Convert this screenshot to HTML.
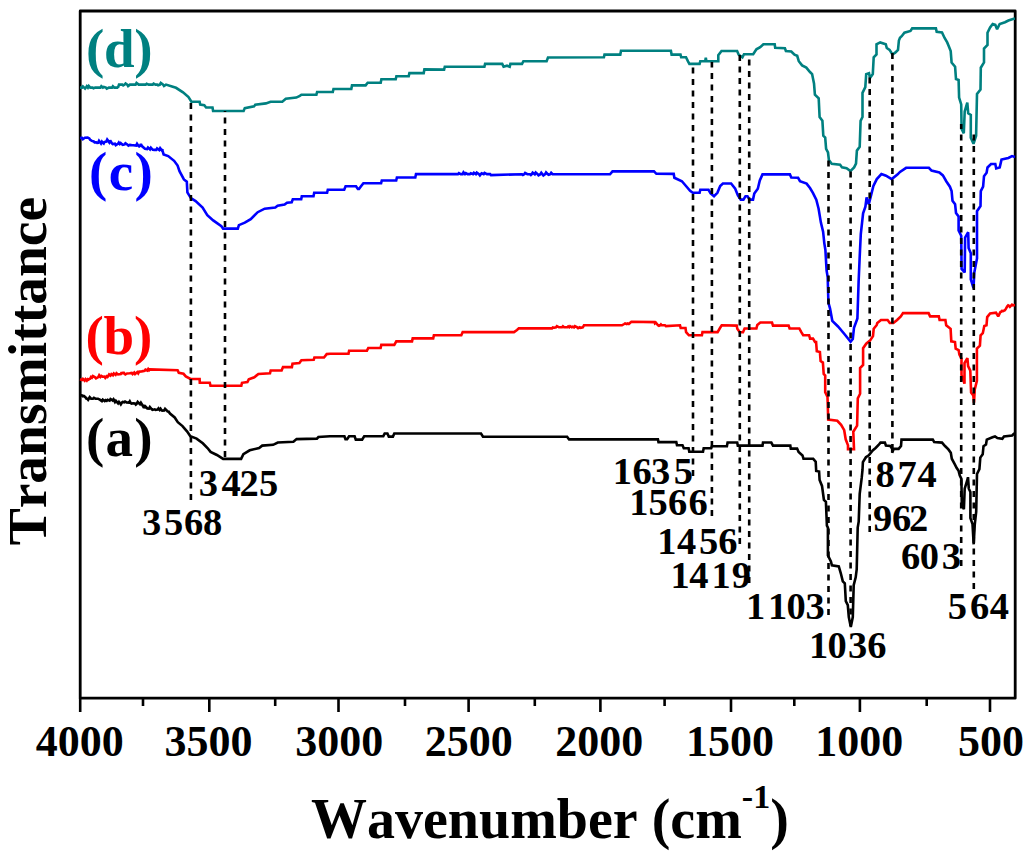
<!DOCTYPE html>
<html><head><meta charset="utf-8"><title>FTIR</title>
<style>html,body{margin:0;padding:0;background:#fff;width:1024px;height:857px;overflow:hidden}svg{display:block}text{font-family:"Liberation Serif",serif;font-weight:bold;font-kerning:none}</style></head><body>
<svg width="1024" height="857" viewBox="0 0 1024 857">
<rect width="1024" height="857" fill="#fff"/>
<rect x="80.2" y="11" width="935" height="687.2" fill="none" stroke="#000" stroke-width="2.8" stroke-linejoin="round"/>
<g fill="none" stroke-width="2.6" stroke-linejoin="miter" stroke-miterlimit="2">
<polyline stroke="#008080" points="80.0,87.6 82.0,87.6 82.9,86.4 84.2,87.6 85.1,88.6 85.9,87.6 86.8,86.2 87.9,87.6 88.8,86.0 90.3,87.6 92.6,87.6 93.5,88.2 95.2,87.6 97.7,87.6 100.4,87.6 101.3,86.2 102.9,87.6 103.8,86.9 105.9,87.6 106.8,88.7 108.9,87.6 112.0,87.6 112.9,86.2 114.3,87.6 117.3,87.6 118.2,86.8 118.0,87.6 119.0,84.6 120.0,84.6 122.3,84.6 123.2,85.4 124.7,84.6 125.6,83.5 127.2,84.6 128.1,86.0 129.9,84.6 132.9,84.6 135.6,84.6 136.5,83.0 138.7,84.6 141.2,84.6 143.2,84.6 145.7,84.6 146.6,83.8 148.7,84.6 150.4,84.6 152.7,84.6 153.6,83.6 155.5,84.6 157.2,84.6 158.1,85.2 159.9,84.6 160.8,82.9 163.1,84.6 164.0,86.0 166.0,84.6 172.0,86.5 176.0,87.8 183.0,92.3 188.5,97.0 191.4,101.7 199.6,101.7 200.2,104.6 204.3,105.2 206.1,107.5 212.5,107.5 213.1,111.0 243.6,111.0 244.8,108.1 254.1,106.4 255.3,104.6 265.9,103.4 270.6,101.7 282.3,101.7 285.8,98.8 296.3,97.6 299.8,95.8 301.4,94.7 316.4,94.7 317.1,92.0 332.8,92.0 333.5,89.0 351.3,89.0 352.0,85.4 365.6,85.4 367.7,82.7 380.7,82.7 381.4,79.2 395.7,79.2 396.4,76.2 408.7,76.2 409.4,73.1 423.7,73.1 424.4,69.4 444.1,69.6 444.8,66.8 484.4,66.8 485.1,63.9 502.2,63.9 503.6,66.7 507.0,65.7 509.7,66.7 510.4,63.9 522.0,63.9 523.4,61.2 546.6,61.2 548.0,57.5 603.9,57.3 604.5,54.6 620.3,54.6 621.0,50.8 670.9,50.8 671.6,54.6 680.5,54.6 681.2,57.3 686.0,57.3 688.0,61.4 689.4,63.9 699.6,63.9 700.3,61.2 705.2,61.2 705.8,57.8 706.4,61.2 718.3,61.2 718.3,55.2 721.5,51.0 737.1,51.0 738.7,54.7 742.4,57.4 744.0,54.2 753.2,54.2 756.4,49.3 760.2,47.2 763.4,44.2 774.7,44.2 775.2,47.7 784.9,48.3 785.9,51.0 791.3,51.5 794.5,54.7 797.2,55.8 798.8,61.2 802.1,65.4 806.3,67.6 810.0,72.0 812.1,74.1 814.0,83.4 814.9,94.6 818.7,98.4 819.6,117.0 822.4,120.8 823.3,135.7 825.2,137.6 826.1,148.8 828.0,152.5 828.9,160.0 831.7,163.7 840.1,164.7 842.0,167.4 846.6,168.3 850.4,171.1 854.1,167.4 856.0,163.7 856.9,150.6 859.7,146.9 860.6,120.8 862.5,117.0 862.5,92.8 865.3,87.2 866.2,74.1 869.0,73.2 870.0,77.9 872.8,74.1 873.7,57.3 876.5,54.5 876.5,44.3 880.2,42.4 885.8,44.3 886.8,48.0 889.6,49.9 892.4,54.5 895.2,52.7 898.0,49.9 898.9,40.5 900.0,37.7 901.7,36.2 904.4,32.7 910.5,31.0 912.2,28.4 935.9,28.4 936.7,31.9 942.0,32.4 944.6,38.0 947.2,42.4 949.0,46.7 950.7,51.1 951.6,62.5 955.1,66.8 956.0,79.1 958.6,80.0 959.1,97.5 961.2,104.5 961.6,128.9 963.8,133.3 964.7,111.5 967.3,102.7 968.2,113.2 970.8,115.0 970.8,137.7 973.5,143.8 976.1,135.9 977.0,94.0 980.5,89.6 980.8,67.7 984.0,62.5 984.0,48.5 987.5,45.0 987.5,32.7 990.1,27.5 992.7,24.0 995.3,24.9 997.1,29.2 999.7,24.0 1005.0,22.2 1008.4,20.5 1013.7,18.7 1015.0,18.7"/>
<polyline stroke="#0000ff" points="80.0,138.0 82.0,137.9 82.9,139.2 84.9,137.8 87.7,137.6 89.3,138.4 90.2,139.9 91.9,140.9 93.7,141.5 94.6,142.3 96.2,142.2 97.1,142.8 98.1,142.7 99.0,140.8 101.0,143.5 101.9,141.7 102.8,142.8 103.7,143.5 104.4,142.1 106.3,141.6 107.2,139.6 109.3,142.4 110.2,140.5 111.8,143.2 112.7,144.0 114.9,143.6 115.8,145.2 117.9,143.9 118.8,142.6 119.8,144.0 120.7,143.1 121.9,144.2 122.8,144.8 124.6,144.4 125.5,143.2 127.5,144.7 128.4,145.6 129.8,144.9 131.5,145.1 133.2,145.2 136.1,145.5 137.0,143.8 138.3,145.8 139.2,146.4 140.0,145.9 140.9,144.0 141.9,146.1 145.0,148.7 147.1,149.0 148.0,147.6 150.0,149.4 150.9,147.7 152.8,149.8 154.5,149.9 156.2,150.0 157.1,148.4 159.3,150.1 160.2,148.2 161.8,150.3 162.7,149.1 162.4,150.3 163.6,154.4 168.2,156.1 174.1,160.8 177.6,165.5 179.5,171.2 183.9,179.4 186.8,181.7 187.4,192.3 190.9,198.1 195.6,201.1 202.6,207.5 207.3,215.1 213.2,220.4 221.4,226.3 223.1,228.6 237.8,228.6 238.9,225.1 244.8,222.7 250.7,219.2 257.7,212.2 264.7,208.7 275.3,207.5 277.6,205.7 284.6,204.6 287.0,202.8 291.7,202.2 292.8,199.3 298.0,199.3 301.2,199.3 301.8,196.2 313.5,196.2 314.2,192.8 327.1,192.8 327.8,189.8 344.2,189.8 345.6,186.3 356.0,186.3 357.9,189.0 359.0,189.0 361.0,186.3 363.4,183.2 381.1,183.2 381.8,180.5 396.2,180.5 396.9,177.5 415.3,177.5 416.0,174.0 458.0,174.1 458.9,173.2 460.7,174.1 462.6,174.1 463.5,172.3 465.0,174.1 465.9,173.1 467.6,174.1 469.9,174.1 470.8,173.3 473.0,174.1 473.9,172.8 475.9,174.1 476.8,172.6 479.0,174.1 479.9,175.3 480.8,174.1 481.7,173.2 483.7,174.1 484.6,172.9 486.9,174.1 490.1,174.1 491.0,175.1 522.0,174.2 522.9,175.0 524.2,174.2 525.1,173.0 527.4,174.2 530.0,174.2 530.9,175.0 531.8,174.2 532.7,172.6 534.8,174.2 535.7,172.6 537.6,174.2 538.5,175.3 540.4,174.2 541.3,172.7 542.5,174.2 543.4,175.4 545.2,174.2 546.1,172.5 547.8,174.2 548.7,174.8 550.3,174.2 551.2,172.8 552.6,174.2 555.3,174.2 610.0,174.3 612.5,171.4 654.0,171.4 656.4,173.8 673.7,173.9 674.4,177.8 681.9,181.2 686.0,186.0 690.1,190.8 692.8,192.8 699.6,192.8 700.3,189.8 708.5,189.8 710.6,193.5 714.0,196.2 717.4,192.8 720.2,186.0 722.9,183.5 731.1,183.5 735.2,188.7 737.9,195.5 740.7,199.6 743.4,199.6 745.5,196.2 747.5,196.2 749.6,199.6 753.0,199.6 754.3,193.5 757.8,188.7 759.8,180.5 762.5,174.4 789.9,174.4 791.3,177.5 798.1,177.8 800.0,181.2 806.6,183.6 810.0,188.0 812.9,192.9 816.3,199.7 818.6,208.8 820.9,222.6 823.1,231.7 824.3,243.1 825.4,250.0 826.6,270.5 827.7,277.4 828.4,302.5 830.0,308.3 832.3,320.8 838.0,326.5 844.8,334.5 850.6,341.8 852.8,339.1 854.0,327.7 857.4,318.5 858.6,282.0 859.7,256.8 860.8,234.0 863.1,213.4 865.4,206.6 866.6,197.4 868.8,204.3 871.1,195.1 873.4,186.0 876.8,179.1 881.4,174.1 886.0,175.7 891.7,179.1 897.4,174.6 900.0,171.9 906.1,167.8 928.9,167.8 931.5,170.6 939.4,172.4 942.9,175.4 946.4,181.5 949.9,186.7 951.6,191.1 952.5,200.7 955.1,204.2 956.0,213.0 958.6,216.5 958.6,230.5 961.2,235.7 961.6,268.9 964.7,272.4 965.1,237.5 968.2,232.2 968.6,248.0 970.8,253.2 970.8,279.4 973.5,288.2 974.3,272.4 977.0,258.4 977.0,211.2 980.5,206.0 980.8,191.1 983.1,186.7 984.0,176.2 986.6,172.7 987.5,167.5 991.0,164.0 995.3,164.0 996.2,168.4 999.7,167.5 1001.5,159.6 1005.0,158.7 1008.4,157.9 1012.0,156.1 1015.0,157.0"/>
<polyline stroke="#ff0000" points="80.0,379.3 82.0,379.9 82.9,378.9 84.6,380.6 85.5,379.2 86.8,380.7 87.7,379.3 88.5,379.7 89.4,378.9 90.2,378.7 91.1,376.9 92.0,377.6 92.9,376.1 95.1,377.3 96.0,378.3 98.3,377.1 99.2,375.2 100.4,376.9 101.3,375.9 102.5,376.7 104.4,376.5 105.3,377.8 106.6,376.3 107.5,377.0 108.2,376.0 109.1,374.4 110.5,375.6 111.4,374.1 112.9,375.3 113.8,373.5 115.6,374.8 116.5,373.3 118.0,374.5 120.8,374.1 121.7,372.2 122.6,373.9 123.5,372.2 124.4,373.7 125.3,374.4 127.1,373.4 129.6,373.2 131.7,372.9 132.6,374.1 134.2,372.5 135.1,374.0 137.3,372.1 138.2,373.3 139.0,371.8 141.7,371.4 144.6,370.9 145.5,369.7 147.3,370.5 148.2,369.1 149.1,370.3 150.0,369.4 177.6,370.3 178.8,372.9 183.5,373.8 185.8,376.4 190.5,379.0 199.6,379.0 199.8,382.8 209.8,382.8 210.5,385.8 241.3,385.8 242.0,382.8 247.4,382.1 248.8,379.4 254.3,377.3 258.4,373.9 270.0,373.2 270.7,370.5 281.6,370.5 283.0,367.1 291.9,367.1 292.5,363.7 299.4,363.0 301.4,360.3 313.7,359.8 314.4,357.5 324.0,357.5 326.7,354.1 330.0,353.8 348.5,353.8 349.1,350.7 366.9,350.7 368.3,348.0 380.6,348.0 381.3,344.9 394.3,344.9 396.3,341.4 412.0,341.4 412.7,338.4 433.2,338.4 433.9,335.3 461.3,335.3 462.7,332.1 514.0,332.1 517.0,330.0 518.8,328.4 552.0,328.4 552.9,327.5 554.2,327.7 556.0,327.3 556.9,326.1 559.0,327.3 562.0,327.3 562.9,326.3 564.1,327.3 567.3,327.3 568.2,326.5 569.2,327.3 570.1,326.2 571.8,327.3 572.7,326.7 574.0,327.3 574.9,326.1 577.2,327.3 578.1,328.2 579.8,327.3 580.7,327.8 582.8,327.3 584.0,325.3 622.0,325.3 624.2,324.0 625.1,323.4 626.8,324.0 627.7,323.4 628.8,324.0 629.7,323.2 630.5,322.5 631.4,321.8 654.7,322.1 655.0,323.3 655.9,322.7 658.0,325.3 658.9,325.8 660.0,325.3 660.9,324.4 661.8,325.3 665.0,325.3 665.9,326.1 680.0,325.3 680.7,328.0 685.5,328.0 686.1,332.1 688.9,335.3 701.9,335.3 702.5,332.1 717.6,332.1 720.0,328.0 721.7,325.3 736.7,325.6 737.3,328.8 739.8,332.2 743.0,332.2 744.6,328.5 756.4,328.5 757.3,324.9 760.3,322.5 772.0,322.5 773.0,325.6 788.6,325.6 789.6,328.5 799.3,328.5 801.3,332.2 803.2,335.2 809.1,335.2 810.1,338.6 813.0,338.6 815.0,342.0 816.1,342.0 816.8,351.3 819.9,352.0 820.6,361.1 822.9,362.6 823.7,374.0 825.2,375.5 825.2,392.2 827.5,396.8 828.2,419.6 837.3,420.8 841.1,424.9 844.2,430.2 845.7,439.3 848.0,445.4 848.0,449.2 854.0,449.2 853.3,431.7 857.1,425.6 857.8,398.3 860.1,393.8 860.1,368.0 863.1,364.9 863.1,348.2 866.2,343.7 870.0,340.6 873.0,336.1 873.7,328.8 876.6,325.2 877.3,323.0 881.0,320.0 887.6,320.0 889.8,323.0 893.4,323.0 897.1,320.0 900.8,316.4 903.0,313.1 928.6,313.1 930.1,316.4 938.8,316.4 939.6,320.0 945.4,320.0 946.2,325.2 950.6,328.8 951.3,341.3 955.0,342.0 955.7,348.6 958.6,350.1 959.4,354.5 961.5,358.8 961.5,375.0 964.5,383.7 964.5,363.2 967.4,358.1 968.1,366.2 970.3,370.6 971.1,392.5 973.3,395.5 974.0,402.8 974.7,389.6 976.9,380.8 976.9,348.6 979.9,345.7 980.6,335.4 982.8,333.2 984.3,325.9 986.5,325.2 987.2,317.1 990.1,313.4 996.0,312.7 998.2,316.4 1000.4,312.0 1001.0,311.8 1001.9,310.9 1003.0,311.1 1004.9,310.3 1005.8,308.9 1007.3,306.4 1008.2,305.4 1009.0,305.8 1009.9,306.9 1012.0,304.7 1012.9,305.3 1015.0,305.0"/>
<polyline stroke="#000" points="80.0,394.9 82.0,395.5 82.9,396.3 83.8,396.0 85.4,397.2 86.3,398.5 87.2,398.7 88.1,399.8 88.8,398.7 89.7,397.2 91.1,398.7 93.0,398.7 93.9,397.9 95.4,398.7 98.0,398.7 100.2,399.9 101.9,401.2 102.8,399.7 104.7,401.0 105.6,400.2 106.7,400.8 107.6,399.8 109.6,400.6 110.5,399.0 112.6,400.4 113.5,399.3 115.0,402.0 115.9,400.8 118.1,403.3 119.0,401.9 119.9,403.0 120.8,404.3 121.8,402.7 122.7,401.9 124.2,402.3 125.1,401.5 126.6,402.4 128.9,402.7 129.8,401.3 130.7,403.0 131.6,403.6 133.2,403.3 134.9,403.5 135.8,404.6 136.8,403.7 137.7,402.0 140.0,404.2 140.9,402.7 143.1,406.3 144.0,405.0 144.7,408.1 145.6,406.7 147.3,408.5 149.0,408.7 149.9,407.0 151.6,409.0 152.5,409.9 154.7,409.3 155.6,409.9 157.6,409.6 158.5,408.4 159.6,409.8 160.5,408.7 161.3,410.0 162.2,410.6 164.2,410.4 165.1,408.8 167.1,410.8 168.0,412.0 168.2,411.0 170.0,413.6 174.7,417.5 177.8,422.2 182.5,426.1 187.2,431.6 190.3,436.3 196.6,438.6 202.8,443.3 207.5,448.0 210.6,451.9 216.9,455.0 223.1,458.9 241.1,458.9 243.4,454.2 249.7,450.3 259.1,448.0 262.2,445.6 273.1,444.8 277.8,442.5 293.4,441.7 296.6,439.1 316.9,438.6 318.4,437.0 330.0,436.2 344.4,436.2 345.5,439.3 347.1,439.3 349.1,436.2 354.6,436.2 355.8,439.6 362.1,439.6 364.2,436.2 383.3,436.2 384.7,433.5 387.4,433.5 388.8,436.6 392.9,436.6 394.3,433.5 481.0,433.5 483.0,436.7 567.1,436.7 569.1,439.4 657.9,439.2 658.5,442.1 676.3,442.1 677.0,445.2 682.5,445.2 683.8,448.2 688.6,448.2 689.3,451.7 703.0,451.7 703.7,448.2 711.2,448.2 711.9,446.2 726.9,446.2 727.6,442.5 737.2,442.5 737.8,445.6 762.5,445.6 763.0,442.5 771.3,442.5 773.0,445.6 790.3,445.6 790.8,448.6 797.1,448.6 798.6,452.0 802.5,455.4 803.5,458.8 813.2,458.8 815.7,461.7 816.2,471.0 819.1,471.5 819.6,480.0 822.0,485.9 823.9,499.8 825.9,501.8 826.9,525.6 827.9,527.6 827.9,555.4 830.9,561.4 831.9,565.4 838.8,566.4 840.8,573.3 842.8,581.3 844.8,583.3 845.8,601.1 847.8,605.1 848.8,617.0 850.8,627.0 852.8,617.0 853.7,585.2 855.7,577.3 856.7,569.3 857.7,527.6 858.7,521.7 859.7,493.8 861.7,477.9 862.5,470.0 862.9,462.1 865.9,457.2 868.8,455.3 872.7,450.4 875.6,448.0 878.6,445.0 880.5,442.6 884.9,442.6 885.9,445.5 890.3,446.0 892.2,448.9 892.2,452.8 893.7,448.9 898.6,448.9 901.0,446.0 901.5,439.6 932.8,439.6 934.2,442.1 942.0,442.6 945.0,446.0 948.4,449.4 950.8,452.8 951.8,458.7 954.7,464.1 956.7,468.0 958.6,470.9 959.8,475.6 961.4,478.9 961.8,505.0 963.9,509.1 964.7,488.7 967.2,480.5 968.0,477.2 968.8,488.7 970.4,492.0 970.4,518.1 972.5,524.0 973.7,544.3 974.8,524.0 976.2,511.6 977.0,474.0 979.4,469.1 980.3,457.6 982.7,454.3 983.5,446.2 986.0,444.5 986.8,439.6 992.5,437.2 995.0,436.4 997.4,438.0 1002.3,438.8 1004.0,436.4 1012.2,435.5 1013.8,433.9 1015.0,433.9"/>
</g>
<g stroke="#000" stroke-width="2.6" stroke-dasharray="6 5.5" fill="none">
<line x1="190.9" y1="500" x2="190.9" y2="98"/>
<line x1="225" y1="457" x2="225" y2="111"/>
<line x1="693" y1="476" x2="693" y2="64"/>
<line x1="711.9" y1="516" x2="711.9" y2="62"/>
<line x1="739.8" y1="544" x2="739.8" y2="52"/>
<line x1="749.2" y1="583" x2="749.2" y2="55"/>
<line x1="828.5" y1="615" x2="828.5" y2="158"/>
<line x1="850.6" y1="626" x2="850.6" y2="171"/>
<line x1="869.7" y1="532" x2="869.7" y2="75"/>
<line x1="892.4" y1="450" x2="892.4" y2="53"/>
<line x1="961.2" y1="566" x2="961.2" y2="124"/>
<line x1="973.8" y1="589" x2="973.8" y2="134"/>
</g>
<path d="M80.2 698V712 M143.0 698V706 M209.3 698V712 M275.2 698V706 M338.5 698V712 M405.0 698V706 M468.6 698V712 M534.8 698V706 M600.4 698V712 M664.6 698V706 M731.0 698V712 M794.3 698V706 M859.9 698V712 M926.7 698V706 M990.0 698V712" stroke="#000" stroke-width="2.6" fill="none"/>
<g font-size="44" text-anchor="middle" fill="#000">
<text x="79.7" y="755.6">4000</text>
<text x="208.5" y="755.6">3500</text>
<text x="339.3" y="755.6">3000</text>
<text x="468.7" y="755.6">2500</text>
<text x="599.3" y="755.6">2000</text>
<text x="730.1" y="755.6">1500</text>
<text x="859.2" y="755.6">1000</text>
<text x="991.0" y="755.6">500</text>
</g>
<g font-size="55">
<text x="85.9" y="67.1" letter-spacing="-0.25" fill="#008080">(d)</text>
<text x="89" y="190.3" letter-spacing="1.35" fill="#0000ff">(c)</text>
<text x="85.6" y="354.2" letter-spacing="-0.3" fill="#ff0000">(b)</text>
<text x="85.9" y="455.6" letter-spacing="1.3" fill="#000">(a)</text>
</g>
<g font-size="38.5" fill="#000">
<text x="198.7 221.6 239.6 258.9" y="495.9">3425</text>
<text x="142.0 164.0 184.0 203.1" y="534.8">3568</text>
<text x="612.8 632.6 650.9 673.7" y="483.5">1635</text>
<text x="629.2 648.4 668.0 688.6" y="515.2">1566</text>
<text x="657.3 677.0 698.9 718.2" y="553.5">1456</text>
<text x="670.5 689.2 711.5 731.7" y="587.7">1419</text>
<text x="746.0 768.0 786.4 805.5" y="619.0">1103</text>
<text x="809.0 827.5 848.0 867.2" y="657.8">1036</text>
<text x="875.6 897.5 917.5" y="487.4">874</text>
<text x="873.1 891.9 908.9" y="530.8">962</text>
<text x="901.0 919.7 941.7" y="569.4">603</text>
<text x="947.8 970.0 989.7" y="618.8">564</text>
</g>
<text x="311" y="838" font-size="56">Wavenumber (cm<tspan font-size="34" dy="-30.5">-1</tspan><tspan dy="30.5">)</tspan></text>
<text transform="translate(46.3,545.3) rotate(-90)" font-size="55.5">Transmittance</text>
</svg></body></html>
